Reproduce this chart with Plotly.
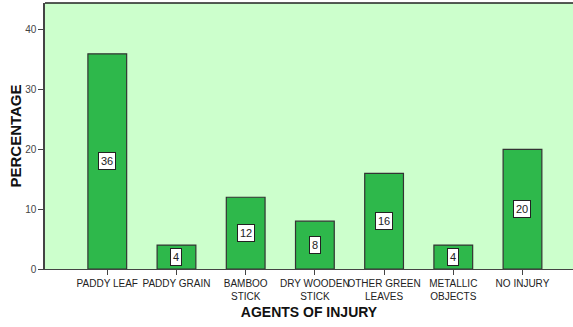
import plotly.graph_objects as go

# Agents of injury and the share of cases for each
agents = ["PADDY LEAF", "PADDY GRAIN", "BAMBOO<br>STICK", "DRY WOODEN<br>STICK",
          "OTHER GREEN<br>LEAVES", "METALLIC<br>OBJECTS", "NO INJURY"]
percentages = [36, 4, 12, 8, 16, 4, 20]
y_ticks = [0, 10, 20, 30, 40]

BAR_GREEN = "#2eb84b"
EDGE = "#333333"
AXIS = "#444444"
FONT = "Liberation Sans, Arial, sans-serif"

fig = go.Figure()
fig.add_trace(go.Bar(
    x=agents,
    y=percentages,
    width=0.56,
    marker=dict(color=BAR_GREEN, line=dict(color=EDGE, width=1.2)),
    hoverinfo="x+y",
))

# Value boxes centred in each bar
for a, v in zip(agents, percentages):
    fig.add_annotation(
        x=a, y=v / 2, xref="x", yref="y", text=str(v), showarrow=False,
        font=dict(family=FONT, size=11, color="#222222"),
        bgcolor="white", bordercolor="#222222", borderwidth=1, borderpad=2,
    )

# Frame line along the top of the plotting area
fig.add_shape(type="line", xref="paper", yref="paper", x0=0, x1=1, y0=1, y1=1,
              line=dict(color="#222222", width=1.5))

fig.update_layout(
    width=573, height=327,
    margin=dict(l=45, r=0, t=3, b=58),
    paper_bgcolor="white",
    plot_bgcolor="#ccffcc",
    showlegend=False,
    font=dict(family=FONT, color="#333333"),
    xaxis=dict(
        range=[-0.9, 6.73],
        showgrid=False, zeroline=False,
        showline=True, linecolor=AXIS, linewidth=1,
        ticks="outside", ticklen=5, tickcolor=AXIS,
        tickfont=dict(family=FONT, size=10, color="#222222"),
        tickangle=0,
        title=dict(text="<b>AGENTS OF INJURY</b>", standoff=6,
                   font=dict(family=FONT, size=14, color="#111111")),
    ),
    yaxis=dict(
        range=[0, 44.5],
        tickvals=y_ticks,
        showgrid=False, zeroline=False,
        showline=True, linecolor=AXIS, linewidth=1.5,
        ticks="outside", ticklen=5, tickcolor=AXIS,
        tickfont=dict(family=FONT, size=10, color="#444444"),
        title=dict(text="<b>PERCENTAGE</b>", standoff=0,
                   font=dict(family=FONT, size=15, color="#111111")),
    ),
)

fig.write_html("out.html")
